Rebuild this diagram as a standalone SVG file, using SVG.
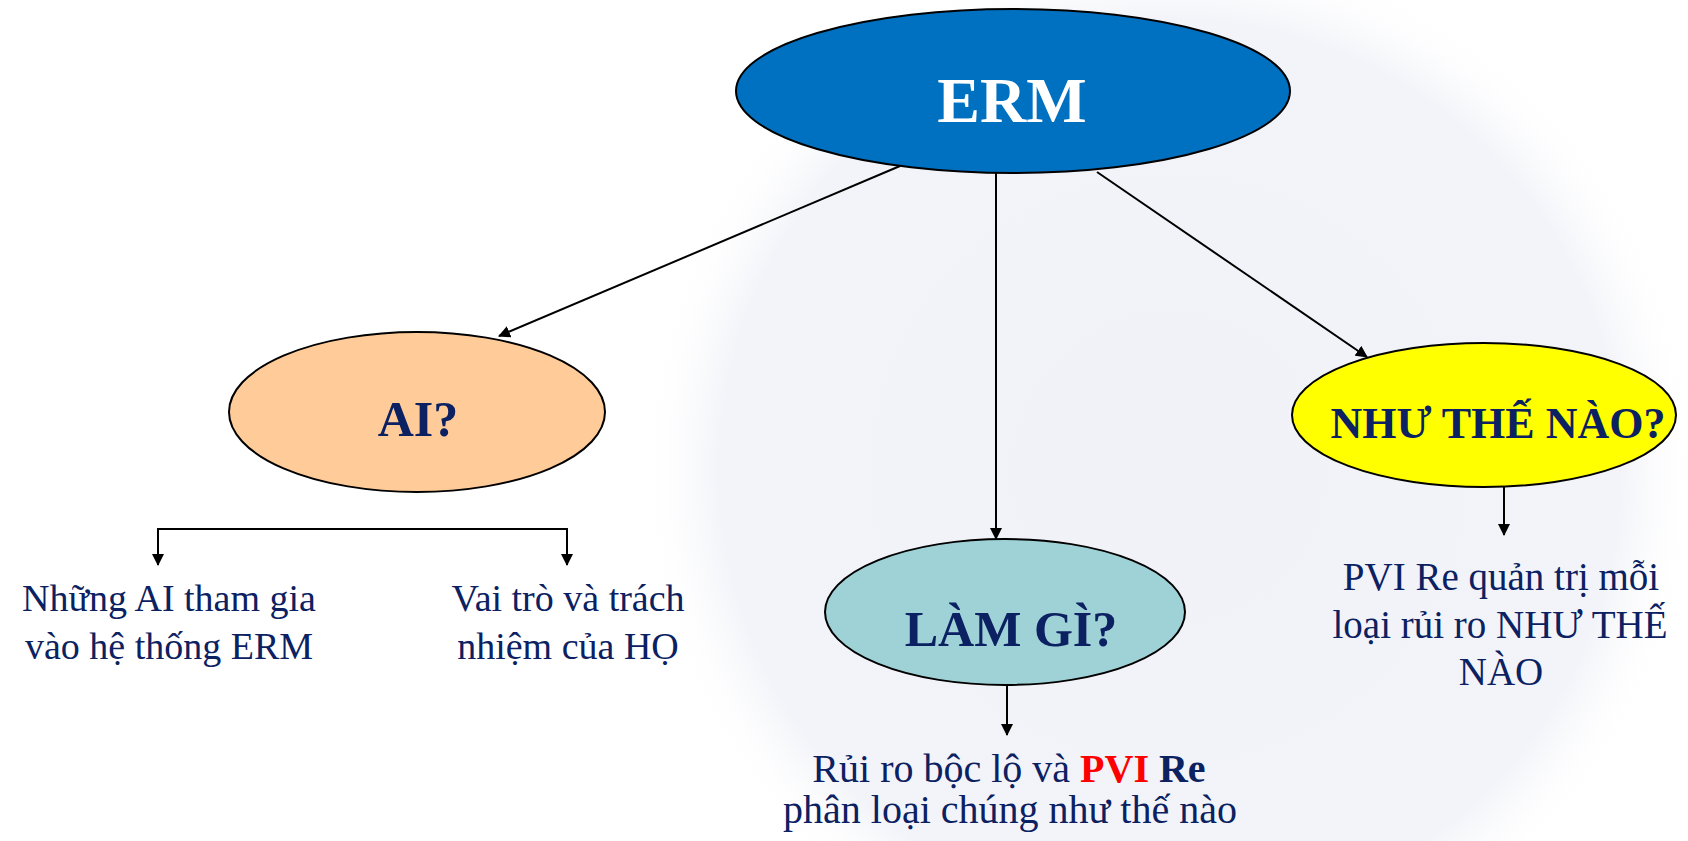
<svg xmlns="http://www.w3.org/2000/svg" width="1688" height="841" viewBox="0 0 1688 841">
  <defs>
    <radialGradient id="globe" cx="0.5" cy="0.5" r="0.5">
      <stop offset="0" stop-color="#f1f2f8"/>
      <stop offset="0.85" stop-color="#f3f4f9"/>
      <stop offset="1" stop-color="#ffffff" stop-opacity="0"/>
    </radialGradient>
    <marker id="arrow" viewBox="0 0 12 12" refX="11" refY="6" markerWidth="12" markerHeight="12" markerUnits="userSpaceOnUse" orient="auto">
      <path d="M0,0 L12,6 L0,12 Z" fill="#000"/>
    </marker>
    <style>
      .node { stroke: #000; stroke-width: 2; }
      .title { font-family: "Liberation Serif", "Times New Roman", serif; font-weight: bold; text-anchor: middle; fill: #0b2161; }
      .body { font-family: "Liberation Serif", "Times New Roman", serif; text-anchor: middle; fill: #0b2161; }
      .link { stroke: #000; stroke-width: 2; fill: none; marker-end: url(#arrow); }
      .bar { stroke: #000; stroke-width: 2; fill: none; }
    </style>
  </defs>

  <!-- page background with faint globe backdrop -->
  <rect width="1688" height="841" fill="#ffffff"/>
  <circle cx="1170" cy="470" r="530" fill="url(#globe)"/>

  <!-- connectors -->
  <g id="connectors">
    <line class="link" x1="900" y1="166" x2="499" y2="336"/>
    <line class="link" x1="996" y1="173" x2="996" y2="539"/>
    <line class="link" x1="1097" y1="172" x2="1367" y2="357"/>
    <line class="link" x1="1007" y1="685" x2="1007" y2="735"/>
    <line class="link" x1="1504" y1="487" x2="1504" y2="535"/>
    <polyline class="bar" points="158,548 158,529 567,529 567,548"/>
    <line class="link" x1="158" y1="540" x2="158" y2="565"/>
    <line class="link" x1="567" y1="540" x2="567" y2="565"/>
  </g>

  <!-- root node -->
  <g id="node-erm">
    <ellipse class="node" cx="1013" cy="91" rx="277" ry="82" fill="#0070c0"/>
    <text x="1012" y="122" font-family="Liberation Serif, Times New Roman, serif" font-weight="bold" font-size="64" fill="#ffffff" text-anchor="middle">ERM</text>
  </g>

  <!-- who -->
  <g id="node-ai">
    <ellipse class="node" cx="417" cy="412" rx="188" ry="80" fill="#ffcc99"/>
    <text class="title" x="418" y="436" font-size="50">AI?</text>
  </g>

  <!-- what -->
  <g id="node-lam-gi">
    <ellipse class="node" cx="1005" cy="612" rx="180" ry="73" fill="#9fd2d6"/>
    <text class="title" x="1011" y="646" font-size="50">LÀM GÌ?</text>
  </g>

  <!-- how -->
  <g id="node-nhu-the-nao">
    <ellipse class="node" cx="1484" cy="415" rx="192" ry="72" fill="#ffff00"/>
    <text class="title" x="1498" y="438" font-size="44">NHƯ THẾ NÀO?</text>
  </g>

  <!-- leaf descriptions -->
  <g id="leaf-participants">
    <text class="body" x="169" y="611" font-size="38">Những AI tham gia</text>
    <text class="body" x="169" y="659" font-size="38">vào hệ thống ERM</text>
  </g>

  <g id="leaf-roles">
    <text class="body" x="568" y="611" font-size="38">Vai trò và trách</text>
    <text class="body" x="568" y="659" font-size="38">nhiệm của HỌ</text>
  </g>

  <g id="leaf-risks">
    <text class="body" x="1009" y="782" font-size="40">Rủi ro bộc lộ và <tspan font-weight="bold" fill="#ff0000">PVI</tspan> <tspan font-weight="bold">Re</tspan></text>
    <text class="body" x="1010" y="823" font-size="40">phân loại chúng như thế nào</text>
  </g>

  <g id="leaf-management">
    <text class="body" x="1501" y="590" font-size="39">PVI Re quản trị mỗi</text>
    <text class="body" x="1500" y="638" font-size="39">loại rủi ro NHƯ THẾ</text>
    <text class="body" x="1501" y="685" font-size="39">NÀO</text>
  </g>
</svg>
